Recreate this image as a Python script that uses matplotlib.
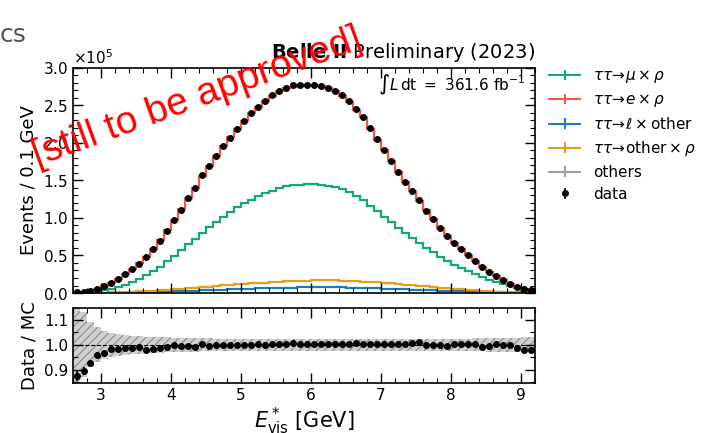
import numpy as np
from matplotlib import pyplot as plt
from matplotlib.ticker import MultipleLocator, ScalarFormatter
from matplotlib.container import ErrorbarContainer
from matplotlib.legend_handler import HandlerErrorbar

# bin edges: 0.1 GeV bins from 2.6 to 9.2 GeV
edges = np.round(np.arange(2.6, 9.2001, 0.1), 2)
centers = 0.5 * (edges[1:] + edges[:-1])

# stacked MC levels (x 1e5 events)
mc_total = [0.01, 0.02, 0.035, 0.058, 0.095, 0.14, 0.19, 0.25, 0.32, 0.395,
            0.485, 0.59, 0.705, 0.835, 0.975, 1.115, 1.265, 1.405, 1.56, 1.695,
            1.83, 1.96, 2.075, 2.19, 2.29, 2.395, 2.48, 2.56, 2.63, 2.685,
            2.725, 2.75, 2.765, 2.77, 2.77, 2.755, 2.725, 2.685, 2.63, 2.545,
            2.44, 2.34, 2.19, 2.04, 1.9, 1.76, 1.615, 1.475, 1.355, 1.225,
            1.1, 0.985, 0.87, 0.765, 0.67, 0.58, 0.5, 0.42, 0.345, 0.28,
            0.22, 0.17, 0.125, 0.082, 0.058, 0.036]
mc_mu_rho = [0.002, 0.005, 0.01, 0.02, 0.035, 0.055, 0.08, 0.11, 0.15, 0.19,
             0.235, 0.29, 0.35, 0.42, 0.495, 0.57, 0.65, 0.725, 0.8, 0.875,
             0.945, 1.015, 1.08, 1.14, 1.195, 1.245, 1.29, 1.33, 1.365, 1.395,
             1.42, 1.435, 1.445, 1.45, 1.45, 1.445, 1.43, 1.41, 1.38, 1.34,
             1.29, 1.235, 1.165, 1.09, 1.015, 0.94, 0.865, 0.795, 0.73, 0.665,
             0.6, 0.54, 0.48, 0.425, 0.375, 0.33, 0.29, 0.25, 0.21, 0.175,
             0.145, 0.115, 0.09, 0.065, 0.045, 0.03]
mc_other_rho = [0.0, 0.001, 0.002, 0.003, 0.005, 0.007, 0.01, 0.013, 0.017, 0.021,
                0.026, 0.031, 0.037, 0.043, 0.05, 0.057, 0.064, 0.071, 0.079, 0.086,
                0.094, 0.101, 0.108, 0.115, 0.122, 0.128, 0.134, 0.14, 0.145, 0.15,
                0.155, 0.159, 0.162, 0.165, 0.167, 0.168, 0.168, 0.167, 0.165, 0.162,
                0.158, 0.153, 0.147, 0.141, 0.134, 0.127, 0.119, 0.111, 0.103, 0.095,
                0.087, 0.079, 0.071, 0.063, 0.056, 0.049, 0.042, 0.036, 0.03, 0.025,
                0.02, 0.016, 0.012, 0.009, 0.006, 0.004]
mc_l_other = [0.0, 0.0, 0.001, 0.001, 0.002, 0.003, 0.004, 0.005, 0.007, 0.009,
              0.011, 0.013, 0.016, 0.018, 0.021, 0.024, 0.027, 0.031, 0.034, 0.038,
              0.041, 0.045, 0.048, 0.052, 0.055, 0.058, 0.061, 0.064, 0.067, 0.069,
              0.071, 0.073, 0.074, 0.075, 0.076, 0.076, 0.076, 0.075, 0.074, 0.072,
              0.07, 0.068, 0.065, 0.062, 0.059, 0.056, 0.052, 0.049, 0.045, 0.042,
              0.038, 0.035, 0.031, 0.028, 0.025, 0.022, 0.019, 0.016, 0.013, 0.011,
              0.009, 0.007, 0.005, 0.004, 0.003, 0.002]

# data / MC ratio
ratio = [0.876, 0.897, 0.927, 0.96, 0.967, 0.984, 0.984, 0.987, 0.987, 0.993,
         0.98, 0.983, 0.987, 0.991, 1.0, 0.997, 0.997, 0.993, 1.004, 0.997,
         1.0, 1.0, 0.998, 1.0, 1.0, 1.0, 1.002, 1.0, 1.003, 1.003,
         1.003, 1.007, 1.003, 1.002, 1.002, 1.003, 1.004, 1.002, 1.003, 1.004,
         1.006, 1.003, 1.003, 1.003, 1.004, 1.002, 1.002, 1.005, 1.008, 1.01,
         0.998, 0.998, 0.998, 0.994, 1.002, 1.002, 1.002, 1.005, 0.99, 0.996,
         1.002, 1.001, 0.999, 0.987, 0.979, 0.98]
ratio_err = [0.02, 0.016, 0.012, 0.008, 0.007, 0.006, 0.005, 0.005, 0.004, 0.004,
             0.004, 0.003, 0.003, 0.003, 0.003, 0.003, 0.003, 0.003, 0.003, 0.003,
             0.003, 0.003, 0.003, 0.003, 0.003, 0.003, 0.003, 0.003, 0.003, 0.003,
             0.003, 0.003, 0.003, 0.003, 0.003, 0.003, 0.003, 0.003, 0.003, 0.003,
             0.003, 0.003, 0.003, 0.003, 0.003, 0.003, 0.003, 0.003, 0.003, 0.003,
             0.003, 0.003, 0.003, 0.003, 0.003, 0.004, 0.004, 0.004, 0.004, 0.005,
             0.005, 0.006, 0.007, 0.008, 0.01, 0.012]
# MC uncertainty band (relative half width)
mc_unc = [0.2, 0.13, 0.09, 0.07, 0.056, 0.048, 0.043, 0.04, 0.037, 0.035,
          0.033, 0.032, 0.031, 0.03, 0.029, 0.028, 0.027, 0.027, 0.026, 0.026,
          0.025, 0.025, 0.024, 0.024, 0.024, 0.023, 0.023, 0.023, 0.023, 0.023,
          0.023, 0.023, 0.023, 0.023, 0.023, 0.023, 0.023, 0.023, 0.023, 0.023,
          0.023, 0.023, 0.023, 0.023, 0.023, 0.023, 0.023, 0.023, 0.023, 0.024,
          0.024, 0.024, 0.024, 0.024, 0.025, 0.025, 0.025, 0.026, 0.026, 0.027,
          0.027, 0.028, 0.028, 0.029, 0.03, 0.03]

colors = {'mu': '#17a57c', 'e': '#ee5a48', 'l': '#1a7cc1',
          'other': '#e69c1c', 'others': '#a0a0a0'}
labels = [r'$\tau\tau\!\rightarrow\!\mu\times\rho$',
          r'$\tau\tau\!\rightarrow\!e\times\rho$',
          r'$\tau\tau\!\rightarrow\!\ell\times\mathrm{other}$',
          r'$\tau\tau\!\rightarrow\!\mathrm{other}\times\rho$',
          'others', 'data']

plt.rcParams['mathtext.fontset'] = 'dejavusans'
plt.rcParams['font.size'] = 11

fig = plt.figure(figsize=(7.04, 4.33), dpi=100)
ax = fig.add_axes([0.1037, 0.3233, 0.656, 0.520])
rax = fig.add_axes([0.1037, 0.1155, 0.656, 0.1732], sharex=ax)

scale = 1e5
lw = 1.6
ax.stairs(np.array(mc_l_other) * scale, edges, color=colors['l'], lw=lw)
ax.stairs(np.array(mc_other_rho) * scale, edges, color=colors['other'], lw=lw)
ax.stairs(np.array(mc_mu_rho) * scale, edges, color=colors['mu'], lw=lw)
ax.stairs(np.array(mc_total) * scale, edges, color=colors['e'], lw=lw)
data = np.array(ratio) * np.array(mc_total) * scale
ax.plot(centers, data, 'o', color='k', ms=4, zorder=5)

ax.set_xlim(2.6, 9.2)
ax.set_ylim(0, 3.0e5)
ax.set_ylabel('Events / 0.1 GeV', fontsize=13)
fmt = ScalarFormatter(useMathText=True)
fmt.set_powerlimits((0, 0))
ax.yaxis.set_major_formatter(fmt)
ax.yaxis.set_major_locator(MultipleLocator(0.5e5))
ax.yaxis.set_minor_locator(MultipleLocator(0.1e5))
ax.xaxis.set_major_locator(MultipleLocator(1))
ax.xaxis.set_minor_locator(MultipleLocator(0.2))
plt.setp(ax.get_xticklabels(), visible=False)

ax.text(0.978, 0.925, r'$\int L\,\mathrm{dt}\ =\ 361.6\ \mathrm{fb}^{-1}$',
        transform=ax.transAxes, ha='right', va='center', fontsize=11)
ax.text(1.0, 1.015, r'$\mathbf{Belle\ II}$ Preliminary (2023)',
        transform=ax.transAxes, ha='right', va='bottom', fontsize=14)

# ratio panel
up = np.append(1 + np.array(mc_unc), 1 + mc_unc[-1])
lo = np.append(1 - np.array(mc_unc), 1 - mc_unc[-1])
plt.rcParams['hatch.linewidth'] = 0.8
rax.fill_between(edges, lo, up, step='post', facecolor='#d0d0d0',
                 edgecolor='#8c8c8c', hatch='////', linewidth=0)
rax.axhline(1.0, color='k', ls='--', lw=0.8)
rax.errorbar(centers, ratio, yerr=ratio_err, fmt='o', color='k', ms=4,
             elinewidth=1.2, zorder=5)
rax.set_ylim(0.848, 1.148)
rax.yaxis.set_major_locator(MultipleLocator(0.1))
rax.yaxis.set_minor_locator(MultipleLocator(0.05))
rax.set_ylabel('Data / MC', fontsize=13)
rax.set_xlabel(r'$E^*_{\rm vis}$ [GeV]', fontsize=15, labelpad=2)

for a in (ax, rax):
    a.tick_params(which='both', direction='in', top=True, right=True,
                  labelsize=11)
    a.tick_params(which='major', length=7, width=1)
    a.tick_params(which='minor', length=3.5, width=0.8)
    for s in a.spines.values():
        s.set_linewidth(1.2)
fig.align_ylabels([ax, rax])

# legend with error-bar style handles
handles = []
for key in ['mu', 'e', 'l', 'other', 'others']:
    h = ax.errorbar([np.nan], [np.nan], xerr=[1], yerr=[1], fmt='none',
                    ecolor=colors[key], elinewidth=1.5)
    handles.append(h)
handles.append(ax.errorbar([np.nan], [np.nan], yerr=[1], fmt='o', color='k',
                           ms=4, elinewidth=1.2))
fig.legend(handles, labels, loc='upper left', bbox_to_anchor=(0.778, 0.842),
           frameon=False, fontsize=11, handlelength=2.2, handletextpad=0.75,
           labelspacing=0.45, borderpad=0, borderaxespad=0,
           handler_map={ErrorbarContainer: HandlerErrorbar(xerr_size=1.05,
                                                           yerr_size=0.35)})

fig.text(0.0, 1 - 35 / 433, 'cs', ha='left', va='center', fontsize=18,
         color='#555555')
fig.text(197 / 704, 1 - 98 / 433, '[still to be approved]', color='red',
         fontsize=28, family='Liberation Sans', rotation=20,
         ha='center', va='center', rotation_mode='anchor')

fig.savefig('out.png', dpi=100)
